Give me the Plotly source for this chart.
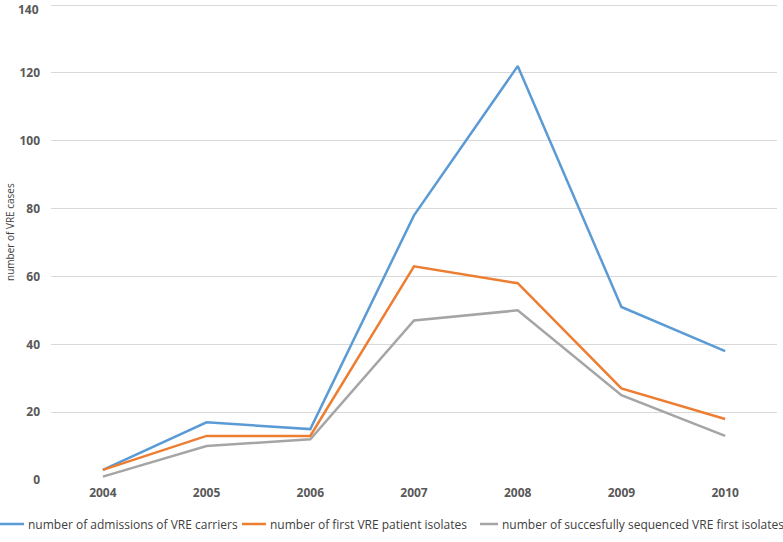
import plotly.graph_objects as go

years = ["2004", "2005", "2006", "2007", "2008", "2009", "2010"]
admissions = [3, 17, 15, 78, 122, 51, 38]
first_isolates = [3, 13, 13, 63, 58, 27, 18]
sequenced = [1, 10, 12, 47, 50, 25, 13]
y_ticks = [0, 20, 40, 60, 80, 100, 120, 140]

names = [
    "number of admissions of VRE carriers",
    "number of first VRE patient isolates",
    "number of succesfully sequenced VRE first isolates",
]
colors = ["#5B9BD5", "#ED7D31", "#A5A5A5"]

W, H = 783, 542
L, R, T, B = 51, 6, 3, 62
PW, PH = W - L - R, H - T - B

def px(x):
    return (x - L) / PW

def py(y):
    return 1 - (y - T) / PH

fig = go.Figure()
for name, vals, col in zip(names, [admissions, first_isolates, sequenced], colors):
    fig.add_trace(go.Scatter(x=years, y=vals, mode="lines", name=name,
                             line=dict(color=col, width=2.5), showlegend=False))

# manual legend (line sample + label)
legend_pos = [(0, 24, 26), (242, 266, 268), (480, 498, 500)]
ly = py(524)
for (x0, x1, tx), name, col in zip(legend_pos, names, colors):
    fig.add_shape(type="line", xref="paper", yref="paper", x0=px(x0), x1=px(x1),
                  y0=ly, y1=ly, line=dict(color=col, width=2.5))
    fig.add_annotation(xref="paper", yref="paper", x=px(tx), y=ly, text=name,
                       showarrow=False, xanchor="left", yanchor="middle",
                       font=dict(size=12, color="#404040"))

fig.add_annotation(xref="paper", yref="paper", x=px(10), y=py(232),
                   text="number of VRE cases", textangle=-90, showarrow=False,
                   xanchor="center", yanchor="middle",
                   font=dict(size=10, color="#404040"))

# top tick label (plotly hides labels that overflow the figure edge)
fig.add_annotation(xref="paper", yref="y", x=px(40), y=y_ticks[-1],
                   text=str(y_ticks[-1]), showarrow=False, xanchor="right",
                   yanchor="top", yshift=5, borderpad=0,
                   font=dict(size=12, color="#595959", weight="bold"))

fig.update_layout(
    width=W, height=H,
    margin=dict(l=L, r=R, t=T, b=B),
    paper_bgcolor="white", plot_bgcolor="white",
    font=dict(family="Open Sans, Liberation Sans, sans-serif", color="#595959"),
    showlegend=False,
)
fig.update_xaxes(type="category", range=[-0.5, 6.5], showgrid=False, showline=False,
                 ticks="", automargin=False, ticklabelstandoff=4,
                 tickfont=dict(size=12, color="#595959", weight="bold"))
fig.update_yaxes(range=[0, 140.6], tickmode="array", tickvals=y_ticks,
                 showgrid=True, gridcolor="#D9D9D9", gridwidth=1,
                 zeroline=False, showline=False, ticks="", automargin=False,
                 ticklabelstandoff=10,
                 tickfont=dict(size=12, color="#595959", weight="bold"))
fig.write_html("out.html", post_script="document.body.style.margin='0';",
               config={"displayModeBar": False})
